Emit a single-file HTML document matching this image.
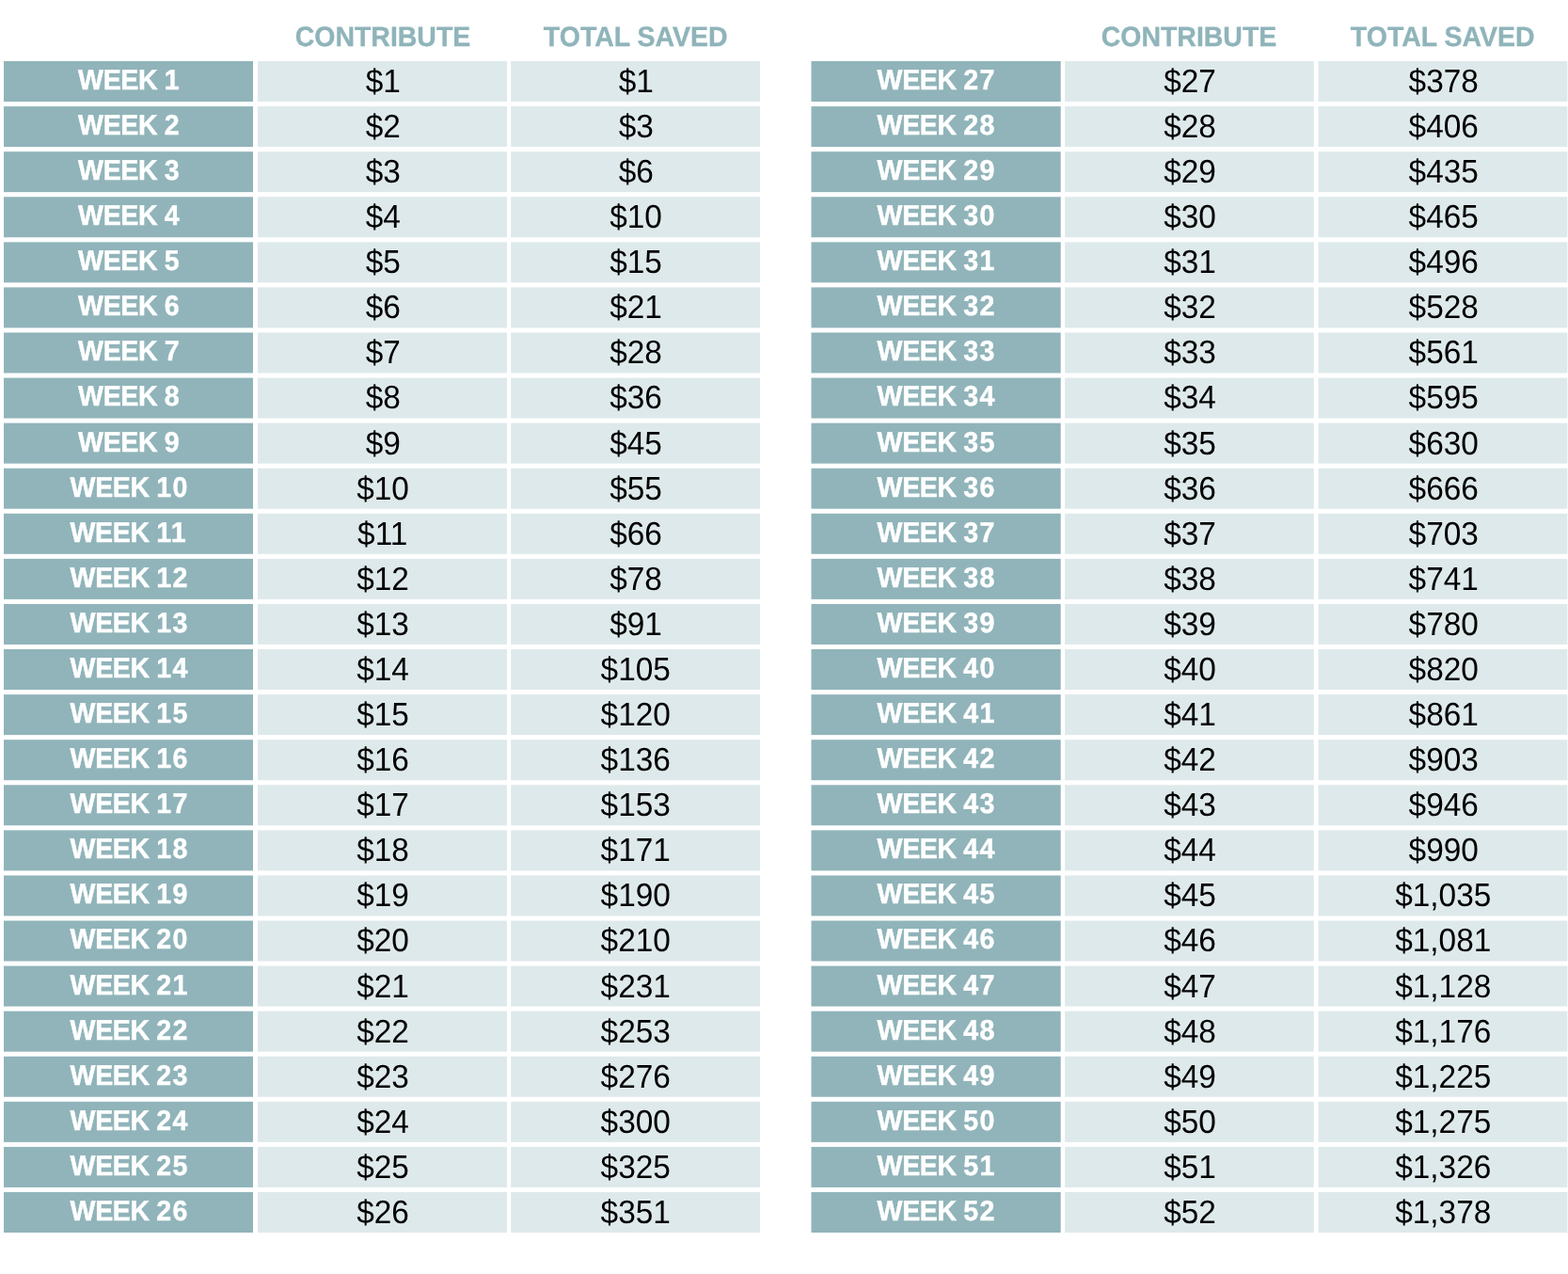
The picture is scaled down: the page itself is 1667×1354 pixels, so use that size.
<!DOCTYPE html>
<html lang="en">
<head>
<meta charset="utf-8">
<title>52 Week Savings Challenge</title>
<style>
html,body{margin:0;padding:0;background:#fff;}
body{width:1667px;height:1354px;position:relative;overflow:hidden;font-family:"Liberation Sans",sans-serif;text-rendering:geometricPrecision;}
svg.bg{position:absolute;left:0;top:0;}
.c{position:absolute;height:43px;line-height:43px;text-align:center;white-space:nowrap;}
.c span{display:inline-block;}
.wk{color:#fff;font-weight:bold;font-size:30.2px;-webkit-text-stroke:0.45px #fff;letter-spacing:-0.4px;}
.wk span{position:relative;top:-1.1px;transform:scaleX(0.946);}
.wk b{font-weight:bold;letter-spacing:1.3px;margin-right:-1.3px;}
.val{color:#000;font-size:34.8px;}
.val span{position:relative;left:0.6px;top:-0.1px;transform:scaleX(0.96);}
.hd{color:#8fb4ba;font-weight:bold;font-size:29.6px;-webkit-text-stroke:0.35px #8fb4ba;}
.hd span{transform:scaleX(0.962);}
</style>
</head>
<body>
<svg class="bg" width="1667" height="1354" viewBox="0 0 1667 1354">
<rect x="4" y="65.0" width="265.00" height="43" fill="#90b4ba"/>
<rect x="274" y="65.0" width="265.00" height="43" fill="#dee9eb"/>
<rect x="543.2" y="65.0" width="264.80" height="43" fill="#dee9eb"/>
<rect x="4" y="113.08" width="265.00" height="43" fill="#90b4ba"/>
<rect x="274" y="113.08" width="265.00" height="43" fill="#dee9eb"/>
<rect x="543.2" y="113.08" width="264.80" height="43" fill="#dee9eb"/>
<rect x="4" y="161.16" width="265.00" height="43" fill="#90b4ba"/>
<rect x="274" y="161.16" width="265.00" height="43" fill="#dee9eb"/>
<rect x="543.2" y="161.16" width="264.80" height="43" fill="#dee9eb"/>
<rect x="4" y="209.24" width="265.00" height="43" fill="#90b4ba"/>
<rect x="274" y="209.24" width="265.00" height="43" fill="#dee9eb"/>
<rect x="543.2" y="209.24" width="264.80" height="43" fill="#dee9eb"/>
<rect x="4" y="257.32" width="265.00" height="43" fill="#90b4ba"/>
<rect x="274" y="257.32" width="265.00" height="43" fill="#dee9eb"/>
<rect x="543.2" y="257.32" width="264.80" height="43" fill="#dee9eb"/>
<rect x="4" y="305.4" width="265.00" height="43" fill="#90b4ba"/>
<rect x="274" y="305.4" width="265.00" height="43" fill="#dee9eb"/>
<rect x="543.2" y="305.4" width="264.80" height="43" fill="#dee9eb"/>
<rect x="4" y="353.48" width="265.00" height="43" fill="#90b4ba"/>
<rect x="274" y="353.48" width="265.00" height="43" fill="#dee9eb"/>
<rect x="543.2" y="353.48" width="264.80" height="43" fill="#dee9eb"/>
<rect x="4" y="401.56" width="265.00" height="43" fill="#90b4ba"/>
<rect x="274" y="401.56" width="265.00" height="43" fill="#dee9eb"/>
<rect x="543.2" y="401.56" width="264.80" height="43" fill="#dee9eb"/>
<rect x="4" y="449.64" width="265.00" height="43" fill="#90b4ba"/>
<rect x="274" y="449.64" width="265.00" height="43" fill="#dee9eb"/>
<rect x="543.2" y="449.64" width="264.80" height="43" fill="#dee9eb"/>
<rect x="4" y="497.72" width="265.00" height="43" fill="#90b4ba"/>
<rect x="274" y="497.72" width="265.00" height="43" fill="#dee9eb"/>
<rect x="543.2" y="497.72" width="264.80" height="43" fill="#dee9eb"/>
<rect x="4" y="545.8" width="265.00" height="43" fill="#90b4ba"/>
<rect x="274" y="545.8" width="265.00" height="43" fill="#dee9eb"/>
<rect x="543.2" y="545.8" width="264.80" height="43" fill="#dee9eb"/>
<rect x="4" y="593.88" width="265.00" height="43" fill="#90b4ba"/>
<rect x="274" y="593.88" width="265.00" height="43" fill="#dee9eb"/>
<rect x="543.2" y="593.88" width="264.80" height="43" fill="#dee9eb"/>
<rect x="4" y="641.96" width="265.00" height="43" fill="#90b4ba"/>
<rect x="274" y="641.96" width="265.00" height="43" fill="#dee9eb"/>
<rect x="543.2" y="641.96" width="264.80" height="43" fill="#dee9eb"/>
<rect x="4" y="690.04" width="265.00" height="43" fill="#90b4ba"/>
<rect x="274" y="690.04" width="265.00" height="43" fill="#dee9eb"/>
<rect x="543.2" y="690.04" width="264.80" height="43" fill="#dee9eb"/>
<rect x="4" y="738.12" width="265.00" height="43" fill="#90b4ba"/>
<rect x="274" y="738.12" width="265.00" height="43" fill="#dee9eb"/>
<rect x="543.2" y="738.12" width="264.80" height="43" fill="#dee9eb"/>
<rect x="4" y="786.2" width="265.00" height="43" fill="#90b4ba"/>
<rect x="274" y="786.2" width="265.00" height="43" fill="#dee9eb"/>
<rect x="543.2" y="786.2" width="264.80" height="43" fill="#dee9eb"/>
<rect x="4" y="834.28" width="265.00" height="43" fill="#90b4ba"/>
<rect x="274" y="834.28" width="265.00" height="43" fill="#dee9eb"/>
<rect x="543.2" y="834.28" width="264.80" height="43" fill="#dee9eb"/>
<rect x="4" y="882.36" width="265.00" height="43" fill="#90b4ba"/>
<rect x="274" y="882.36" width="265.00" height="43" fill="#dee9eb"/>
<rect x="543.2" y="882.36" width="264.80" height="43" fill="#dee9eb"/>
<rect x="4" y="930.44" width="265.00" height="43" fill="#90b4ba"/>
<rect x="274" y="930.44" width="265.00" height="43" fill="#dee9eb"/>
<rect x="543.2" y="930.44" width="264.80" height="43" fill="#dee9eb"/>
<rect x="4" y="978.52" width="265.00" height="43" fill="#90b4ba"/>
<rect x="274" y="978.52" width="265.00" height="43" fill="#dee9eb"/>
<rect x="543.2" y="978.52" width="264.80" height="43" fill="#dee9eb"/>
<rect x="4" y="1026.6" width="265.00" height="43" fill="#90b4ba"/>
<rect x="274" y="1026.6" width="265.00" height="43" fill="#dee9eb"/>
<rect x="543.2" y="1026.6" width="264.80" height="43" fill="#dee9eb"/>
<rect x="4" y="1074.68" width="265.00" height="43" fill="#90b4ba"/>
<rect x="274" y="1074.68" width="265.00" height="43" fill="#dee9eb"/>
<rect x="543.2" y="1074.68" width="264.80" height="43" fill="#dee9eb"/>
<rect x="4" y="1122.76" width="265.00" height="43" fill="#90b4ba"/>
<rect x="274" y="1122.76" width="265.00" height="43" fill="#dee9eb"/>
<rect x="543.2" y="1122.76" width="264.80" height="43" fill="#dee9eb"/>
<rect x="4" y="1170.84" width="265.00" height="43" fill="#90b4ba"/>
<rect x="274" y="1170.84" width="265.00" height="43" fill="#dee9eb"/>
<rect x="543.2" y="1170.84" width="264.80" height="43" fill="#dee9eb"/>
<rect x="4" y="1218.92" width="265.00" height="43" fill="#90b4ba"/>
<rect x="274" y="1218.92" width="265.00" height="43" fill="#dee9eb"/>
<rect x="543.2" y="1218.92" width="264.80" height="43" fill="#dee9eb"/>
<rect x="4" y="1267.0" width="265.00" height="43" fill="#90b4ba"/>
<rect x="274" y="1267.0" width="265.00" height="43" fill="#dee9eb"/>
<rect x="543.2" y="1267.0" width="264.80" height="43" fill="#dee9eb"/>
<rect x="862.5" y="65.0" width="265.20" height="43" fill="#90b4ba"/>
<rect x="1132.1" y="65.0" width="264.70" height="43" fill="#dee9eb"/>
<rect x="1401.6" y="65.0" width="264.70" height="43" fill="#dee9eb"/>
<rect x="862.5" y="113.08" width="265.20" height="43" fill="#90b4ba"/>
<rect x="1132.1" y="113.08" width="264.70" height="43" fill="#dee9eb"/>
<rect x="1401.6" y="113.08" width="264.70" height="43" fill="#dee9eb"/>
<rect x="862.5" y="161.16" width="265.20" height="43" fill="#90b4ba"/>
<rect x="1132.1" y="161.16" width="264.70" height="43" fill="#dee9eb"/>
<rect x="1401.6" y="161.16" width="264.70" height="43" fill="#dee9eb"/>
<rect x="862.5" y="209.24" width="265.20" height="43" fill="#90b4ba"/>
<rect x="1132.1" y="209.24" width="264.70" height="43" fill="#dee9eb"/>
<rect x="1401.6" y="209.24" width="264.70" height="43" fill="#dee9eb"/>
<rect x="862.5" y="257.32" width="265.20" height="43" fill="#90b4ba"/>
<rect x="1132.1" y="257.32" width="264.70" height="43" fill="#dee9eb"/>
<rect x="1401.6" y="257.32" width="264.70" height="43" fill="#dee9eb"/>
<rect x="862.5" y="305.4" width="265.20" height="43" fill="#90b4ba"/>
<rect x="1132.1" y="305.4" width="264.70" height="43" fill="#dee9eb"/>
<rect x="1401.6" y="305.4" width="264.70" height="43" fill="#dee9eb"/>
<rect x="862.5" y="353.48" width="265.20" height="43" fill="#90b4ba"/>
<rect x="1132.1" y="353.48" width="264.70" height="43" fill="#dee9eb"/>
<rect x="1401.6" y="353.48" width="264.70" height="43" fill="#dee9eb"/>
<rect x="862.5" y="401.56" width="265.20" height="43" fill="#90b4ba"/>
<rect x="1132.1" y="401.56" width="264.70" height="43" fill="#dee9eb"/>
<rect x="1401.6" y="401.56" width="264.70" height="43" fill="#dee9eb"/>
<rect x="862.5" y="449.64" width="265.20" height="43" fill="#90b4ba"/>
<rect x="1132.1" y="449.64" width="264.70" height="43" fill="#dee9eb"/>
<rect x="1401.6" y="449.64" width="264.70" height="43" fill="#dee9eb"/>
<rect x="862.5" y="497.72" width="265.20" height="43" fill="#90b4ba"/>
<rect x="1132.1" y="497.72" width="264.70" height="43" fill="#dee9eb"/>
<rect x="1401.6" y="497.72" width="264.70" height="43" fill="#dee9eb"/>
<rect x="862.5" y="545.8" width="265.20" height="43" fill="#90b4ba"/>
<rect x="1132.1" y="545.8" width="264.70" height="43" fill="#dee9eb"/>
<rect x="1401.6" y="545.8" width="264.70" height="43" fill="#dee9eb"/>
<rect x="862.5" y="593.88" width="265.20" height="43" fill="#90b4ba"/>
<rect x="1132.1" y="593.88" width="264.70" height="43" fill="#dee9eb"/>
<rect x="1401.6" y="593.88" width="264.70" height="43" fill="#dee9eb"/>
<rect x="862.5" y="641.96" width="265.20" height="43" fill="#90b4ba"/>
<rect x="1132.1" y="641.96" width="264.70" height="43" fill="#dee9eb"/>
<rect x="1401.6" y="641.96" width="264.70" height="43" fill="#dee9eb"/>
<rect x="862.5" y="690.04" width="265.20" height="43" fill="#90b4ba"/>
<rect x="1132.1" y="690.04" width="264.70" height="43" fill="#dee9eb"/>
<rect x="1401.6" y="690.04" width="264.70" height="43" fill="#dee9eb"/>
<rect x="862.5" y="738.12" width="265.20" height="43" fill="#90b4ba"/>
<rect x="1132.1" y="738.12" width="264.70" height="43" fill="#dee9eb"/>
<rect x="1401.6" y="738.12" width="264.70" height="43" fill="#dee9eb"/>
<rect x="862.5" y="786.2" width="265.20" height="43" fill="#90b4ba"/>
<rect x="1132.1" y="786.2" width="264.70" height="43" fill="#dee9eb"/>
<rect x="1401.6" y="786.2" width="264.70" height="43" fill="#dee9eb"/>
<rect x="862.5" y="834.28" width="265.20" height="43" fill="#90b4ba"/>
<rect x="1132.1" y="834.28" width="264.70" height="43" fill="#dee9eb"/>
<rect x="1401.6" y="834.28" width="264.70" height="43" fill="#dee9eb"/>
<rect x="862.5" y="882.36" width="265.20" height="43" fill="#90b4ba"/>
<rect x="1132.1" y="882.36" width="264.70" height="43" fill="#dee9eb"/>
<rect x="1401.6" y="882.36" width="264.70" height="43" fill="#dee9eb"/>
<rect x="862.5" y="930.44" width="265.20" height="43" fill="#90b4ba"/>
<rect x="1132.1" y="930.44" width="264.70" height="43" fill="#dee9eb"/>
<rect x="1401.6" y="930.44" width="264.70" height="43" fill="#dee9eb"/>
<rect x="862.5" y="978.52" width="265.20" height="43" fill="#90b4ba"/>
<rect x="1132.1" y="978.52" width="264.70" height="43" fill="#dee9eb"/>
<rect x="1401.6" y="978.52" width="264.70" height="43" fill="#dee9eb"/>
<rect x="862.5" y="1026.6" width="265.20" height="43" fill="#90b4ba"/>
<rect x="1132.1" y="1026.6" width="264.70" height="43" fill="#dee9eb"/>
<rect x="1401.6" y="1026.6" width="264.70" height="43" fill="#dee9eb"/>
<rect x="862.5" y="1074.68" width="265.20" height="43" fill="#90b4ba"/>
<rect x="1132.1" y="1074.68" width="264.70" height="43" fill="#dee9eb"/>
<rect x="1401.6" y="1074.68" width="264.70" height="43" fill="#dee9eb"/>
<rect x="862.5" y="1122.76" width="265.20" height="43" fill="#90b4ba"/>
<rect x="1132.1" y="1122.76" width="264.70" height="43" fill="#dee9eb"/>
<rect x="1401.6" y="1122.76" width="264.70" height="43" fill="#dee9eb"/>
<rect x="862.5" y="1170.84" width="265.20" height="43" fill="#90b4ba"/>
<rect x="1132.1" y="1170.84" width="264.70" height="43" fill="#dee9eb"/>
<rect x="1401.6" y="1170.84" width="264.70" height="43" fill="#dee9eb"/>
<rect x="862.5" y="1218.92" width="265.20" height="43" fill="#90b4ba"/>
<rect x="1132.1" y="1218.92" width="264.70" height="43" fill="#dee9eb"/>
<rect x="1401.6" y="1218.92" width="264.70" height="43" fill="#dee9eb"/>
<rect x="862.5" y="1267.0" width="265.20" height="43" fill="#90b4ba"/>
<rect x="1132.1" y="1267.0" width="264.70" height="43" fill="#dee9eb"/>
<rect x="1401.6" y="1267.0" width="264.70" height="43" fill="#dee9eb"/>
</svg>
<div class="c wk" style="left:4px;top:65.0px;width:265.00px"><span>WEEK <b>1</b></span></div>
<div class="c val" style="left:274px;top:65.0px;width:265.00px"><span>$1</span></div>
<div class="c val" style="left:543.2px;top:65.0px;width:264.80px"><span>$1</span></div>
<div class="c wk" style="left:4px;top:113.08px;width:265.00px"><span>WEEK <b>2</b></span></div>
<div class="c val" style="left:274px;top:113.08px;width:265.00px"><span>$2</span></div>
<div class="c val" style="left:543.2px;top:113.08px;width:264.80px"><span>$3</span></div>
<div class="c wk" style="left:4px;top:161.16px;width:265.00px"><span>WEEK <b>3</b></span></div>
<div class="c val" style="left:274px;top:161.16px;width:265.00px"><span>$3</span></div>
<div class="c val" style="left:543.2px;top:161.16px;width:264.80px"><span>$6</span></div>
<div class="c wk" style="left:4px;top:209.24px;width:265.00px"><span>WEEK <b>4</b></span></div>
<div class="c val" style="left:274px;top:209.24px;width:265.00px"><span>$4</span></div>
<div class="c val" style="left:543.2px;top:209.24px;width:264.80px"><span>$10</span></div>
<div class="c wk" style="left:4px;top:257.32px;width:265.00px"><span>WEEK <b>5</b></span></div>
<div class="c val" style="left:274px;top:257.32px;width:265.00px"><span>$5</span></div>
<div class="c val" style="left:543.2px;top:257.32px;width:264.80px"><span>$15</span></div>
<div class="c wk" style="left:4px;top:305.4px;width:265.00px"><span>WEEK <b>6</b></span></div>
<div class="c val" style="left:274px;top:305.4px;width:265.00px"><span>$6</span></div>
<div class="c val" style="left:543.2px;top:305.4px;width:264.80px"><span>$21</span></div>
<div class="c wk" style="left:4px;top:353.48px;width:265.00px"><span>WEEK <b>7</b></span></div>
<div class="c val" style="left:274px;top:353.48px;width:265.00px"><span>$7</span></div>
<div class="c val" style="left:543.2px;top:353.48px;width:264.80px"><span>$28</span></div>
<div class="c wk" style="left:4px;top:401.56px;width:265.00px"><span>WEEK <b>8</b></span></div>
<div class="c val" style="left:274px;top:401.56px;width:265.00px"><span>$8</span></div>
<div class="c val" style="left:543.2px;top:401.56px;width:264.80px"><span>$36</span></div>
<div class="c wk" style="left:4px;top:449.64px;width:265.00px"><span>WEEK <b>9</b></span></div>
<div class="c val" style="left:274px;top:449.64px;width:265.00px"><span>$9</span></div>
<div class="c val" style="left:543.2px;top:449.64px;width:264.80px"><span>$45</span></div>
<div class="c wk" style="left:4px;top:497.72px;width:265.00px"><span>WEEK <b>10</b></span></div>
<div class="c val" style="left:274px;top:497.72px;width:265.00px"><span>$10</span></div>
<div class="c val" style="left:543.2px;top:497.72px;width:264.80px"><span>$55</span></div>
<div class="c wk" style="left:4px;top:545.8px;width:265.00px"><span>WEEK <b>11</b></span></div>
<div class="c val" style="left:274px;top:545.8px;width:265.00px"><span>$11</span></div>
<div class="c val" style="left:543.2px;top:545.8px;width:264.80px"><span>$66</span></div>
<div class="c wk" style="left:4px;top:593.88px;width:265.00px"><span>WEEK <b>12</b></span></div>
<div class="c val" style="left:274px;top:593.88px;width:265.00px"><span>$12</span></div>
<div class="c val" style="left:543.2px;top:593.88px;width:264.80px"><span>$78</span></div>
<div class="c wk" style="left:4px;top:641.96px;width:265.00px"><span>WEEK <b>13</b></span></div>
<div class="c val" style="left:274px;top:641.96px;width:265.00px"><span>$13</span></div>
<div class="c val" style="left:543.2px;top:641.96px;width:264.80px"><span>$91</span></div>
<div class="c wk" style="left:4px;top:690.04px;width:265.00px"><span>WEEK <b>14</b></span></div>
<div class="c val" style="left:274px;top:690.04px;width:265.00px"><span>$14</span></div>
<div class="c val" style="left:543.2px;top:690.04px;width:264.80px"><span>$105</span></div>
<div class="c wk" style="left:4px;top:738.12px;width:265.00px"><span>WEEK <b>15</b></span></div>
<div class="c val" style="left:274px;top:738.12px;width:265.00px"><span>$15</span></div>
<div class="c val" style="left:543.2px;top:738.12px;width:264.80px"><span>$120</span></div>
<div class="c wk" style="left:4px;top:786.2px;width:265.00px"><span>WEEK <b>16</b></span></div>
<div class="c val" style="left:274px;top:786.2px;width:265.00px"><span>$16</span></div>
<div class="c val" style="left:543.2px;top:786.2px;width:264.80px"><span>$136</span></div>
<div class="c wk" style="left:4px;top:834.28px;width:265.00px"><span>WEEK <b>17</b></span></div>
<div class="c val" style="left:274px;top:834.28px;width:265.00px"><span>$17</span></div>
<div class="c val" style="left:543.2px;top:834.28px;width:264.80px"><span>$153</span></div>
<div class="c wk" style="left:4px;top:882.36px;width:265.00px"><span>WEEK <b>18</b></span></div>
<div class="c val" style="left:274px;top:882.36px;width:265.00px"><span>$18</span></div>
<div class="c val" style="left:543.2px;top:882.36px;width:264.80px"><span>$171</span></div>
<div class="c wk" style="left:4px;top:930.44px;width:265.00px"><span>WEEK <b>19</b></span></div>
<div class="c val" style="left:274px;top:930.44px;width:265.00px"><span>$19</span></div>
<div class="c val" style="left:543.2px;top:930.44px;width:264.80px"><span>$190</span></div>
<div class="c wk" style="left:4px;top:978.52px;width:265.00px"><span>WEEK <b>20</b></span></div>
<div class="c val" style="left:274px;top:978.52px;width:265.00px"><span>$20</span></div>
<div class="c val" style="left:543.2px;top:978.52px;width:264.80px"><span>$210</span></div>
<div class="c wk" style="left:4px;top:1026.6px;width:265.00px"><span>WEEK <b>21</b></span></div>
<div class="c val" style="left:274px;top:1026.6px;width:265.00px"><span>$21</span></div>
<div class="c val" style="left:543.2px;top:1026.6px;width:264.80px"><span>$231</span></div>
<div class="c wk" style="left:4px;top:1074.68px;width:265.00px"><span>WEEK <b>22</b></span></div>
<div class="c val" style="left:274px;top:1074.68px;width:265.00px"><span>$22</span></div>
<div class="c val" style="left:543.2px;top:1074.68px;width:264.80px"><span>$253</span></div>
<div class="c wk" style="left:4px;top:1122.76px;width:265.00px"><span>WEEK <b>23</b></span></div>
<div class="c val" style="left:274px;top:1122.76px;width:265.00px"><span>$23</span></div>
<div class="c val" style="left:543.2px;top:1122.76px;width:264.80px"><span>$276</span></div>
<div class="c wk" style="left:4px;top:1170.84px;width:265.00px"><span>WEEK <b>24</b></span></div>
<div class="c val" style="left:274px;top:1170.84px;width:265.00px"><span>$24</span></div>
<div class="c val" style="left:543.2px;top:1170.84px;width:264.80px"><span>$300</span></div>
<div class="c wk" style="left:4px;top:1218.92px;width:265.00px"><span>WEEK <b>25</b></span></div>
<div class="c val" style="left:274px;top:1218.92px;width:265.00px"><span>$25</span></div>
<div class="c val" style="left:543.2px;top:1218.92px;width:264.80px"><span>$325</span></div>
<div class="c wk" style="left:4px;top:1267.0px;width:265.00px"><span>WEEK <b>26</b></span></div>
<div class="c val" style="left:274px;top:1267.0px;width:265.00px"><span>$26</span></div>
<div class="c val" style="left:543.2px;top:1267.0px;width:264.80px"><span>$351</span></div>
<div class="c hd" style="left:274px;top:17.5px;width:265.00px"><span>CONTRIBUTE</span></div>
<div class="c hd" style="left:543.2px;top:17.5px;width:264.80px"><span>TOTAL SAVED</span></div>
<div class="c wk" style="left:862.5px;top:65.0px;width:265.20px"><span>WEEK <b>27</b></span></div>
<div class="c val" style="left:1132.1px;top:65.0px;width:264.70px"><span>$27</span></div>
<div class="c val" style="left:1401.6px;top:65.0px;width:264.70px"><span>$378</span></div>
<div class="c wk" style="left:862.5px;top:113.08px;width:265.20px"><span>WEEK <b>28</b></span></div>
<div class="c val" style="left:1132.1px;top:113.08px;width:264.70px"><span>$28</span></div>
<div class="c val" style="left:1401.6px;top:113.08px;width:264.70px"><span>$406</span></div>
<div class="c wk" style="left:862.5px;top:161.16px;width:265.20px"><span>WEEK <b>29</b></span></div>
<div class="c val" style="left:1132.1px;top:161.16px;width:264.70px"><span>$29</span></div>
<div class="c val" style="left:1401.6px;top:161.16px;width:264.70px"><span>$435</span></div>
<div class="c wk" style="left:862.5px;top:209.24px;width:265.20px"><span>WEEK <b>30</b></span></div>
<div class="c val" style="left:1132.1px;top:209.24px;width:264.70px"><span>$30</span></div>
<div class="c val" style="left:1401.6px;top:209.24px;width:264.70px"><span>$465</span></div>
<div class="c wk" style="left:862.5px;top:257.32px;width:265.20px"><span>WEEK <b>31</b></span></div>
<div class="c val" style="left:1132.1px;top:257.32px;width:264.70px"><span>$31</span></div>
<div class="c val" style="left:1401.6px;top:257.32px;width:264.70px"><span>$496</span></div>
<div class="c wk" style="left:862.5px;top:305.4px;width:265.20px"><span>WEEK <b>32</b></span></div>
<div class="c val" style="left:1132.1px;top:305.4px;width:264.70px"><span>$32</span></div>
<div class="c val" style="left:1401.6px;top:305.4px;width:264.70px"><span>$528</span></div>
<div class="c wk" style="left:862.5px;top:353.48px;width:265.20px"><span>WEEK <b>33</b></span></div>
<div class="c val" style="left:1132.1px;top:353.48px;width:264.70px"><span>$33</span></div>
<div class="c val" style="left:1401.6px;top:353.48px;width:264.70px"><span>$561</span></div>
<div class="c wk" style="left:862.5px;top:401.56px;width:265.20px"><span>WEEK <b>34</b></span></div>
<div class="c val" style="left:1132.1px;top:401.56px;width:264.70px"><span>$34</span></div>
<div class="c val" style="left:1401.6px;top:401.56px;width:264.70px"><span>$595</span></div>
<div class="c wk" style="left:862.5px;top:449.64px;width:265.20px"><span>WEEK <b>35</b></span></div>
<div class="c val" style="left:1132.1px;top:449.64px;width:264.70px"><span>$35</span></div>
<div class="c val" style="left:1401.6px;top:449.64px;width:264.70px"><span>$630</span></div>
<div class="c wk" style="left:862.5px;top:497.72px;width:265.20px"><span>WEEK <b>36</b></span></div>
<div class="c val" style="left:1132.1px;top:497.72px;width:264.70px"><span>$36</span></div>
<div class="c val" style="left:1401.6px;top:497.72px;width:264.70px"><span>$666</span></div>
<div class="c wk" style="left:862.5px;top:545.8px;width:265.20px"><span>WEEK <b>37</b></span></div>
<div class="c val" style="left:1132.1px;top:545.8px;width:264.70px"><span>$37</span></div>
<div class="c val" style="left:1401.6px;top:545.8px;width:264.70px"><span>$703</span></div>
<div class="c wk" style="left:862.5px;top:593.88px;width:265.20px"><span>WEEK <b>38</b></span></div>
<div class="c val" style="left:1132.1px;top:593.88px;width:264.70px"><span>$38</span></div>
<div class="c val" style="left:1401.6px;top:593.88px;width:264.70px"><span>$741</span></div>
<div class="c wk" style="left:862.5px;top:641.96px;width:265.20px"><span>WEEK <b>39</b></span></div>
<div class="c val" style="left:1132.1px;top:641.96px;width:264.70px"><span>$39</span></div>
<div class="c val" style="left:1401.6px;top:641.96px;width:264.70px"><span>$780</span></div>
<div class="c wk" style="left:862.5px;top:690.04px;width:265.20px"><span>WEEK <b>40</b></span></div>
<div class="c val" style="left:1132.1px;top:690.04px;width:264.70px"><span>$40</span></div>
<div class="c val" style="left:1401.6px;top:690.04px;width:264.70px"><span>$820</span></div>
<div class="c wk" style="left:862.5px;top:738.12px;width:265.20px"><span>WEEK <b>41</b></span></div>
<div class="c val" style="left:1132.1px;top:738.12px;width:264.70px"><span>$41</span></div>
<div class="c val" style="left:1401.6px;top:738.12px;width:264.70px"><span>$861</span></div>
<div class="c wk" style="left:862.5px;top:786.2px;width:265.20px"><span>WEEK <b>42</b></span></div>
<div class="c val" style="left:1132.1px;top:786.2px;width:264.70px"><span>$42</span></div>
<div class="c val" style="left:1401.6px;top:786.2px;width:264.70px"><span>$903</span></div>
<div class="c wk" style="left:862.5px;top:834.28px;width:265.20px"><span>WEEK <b>43</b></span></div>
<div class="c val" style="left:1132.1px;top:834.28px;width:264.70px"><span>$43</span></div>
<div class="c val" style="left:1401.6px;top:834.28px;width:264.70px"><span>$946</span></div>
<div class="c wk" style="left:862.5px;top:882.36px;width:265.20px"><span>WEEK <b>44</b></span></div>
<div class="c val" style="left:1132.1px;top:882.36px;width:264.70px"><span>$44</span></div>
<div class="c val" style="left:1401.6px;top:882.36px;width:264.70px"><span>$990</span></div>
<div class="c wk" style="left:862.5px;top:930.44px;width:265.20px"><span>WEEK <b>45</b></span></div>
<div class="c val" style="left:1132.1px;top:930.44px;width:264.70px"><span>$45</span></div>
<div class="c val" style="left:1401.6px;top:930.44px;width:264.70px"><span>$1,035</span></div>
<div class="c wk" style="left:862.5px;top:978.52px;width:265.20px"><span>WEEK <b>46</b></span></div>
<div class="c val" style="left:1132.1px;top:978.52px;width:264.70px"><span>$46</span></div>
<div class="c val" style="left:1401.6px;top:978.52px;width:264.70px"><span>$1,081</span></div>
<div class="c wk" style="left:862.5px;top:1026.6px;width:265.20px"><span>WEEK <b>47</b></span></div>
<div class="c val" style="left:1132.1px;top:1026.6px;width:264.70px"><span>$47</span></div>
<div class="c val" style="left:1401.6px;top:1026.6px;width:264.70px"><span>$1,128</span></div>
<div class="c wk" style="left:862.5px;top:1074.68px;width:265.20px"><span>WEEK <b>48</b></span></div>
<div class="c val" style="left:1132.1px;top:1074.68px;width:264.70px"><span>$48</span></div>
<div class="c val" style="left:1401.6px;top:1074.68px;width:264.70px"><span>$1,176</span></div>
<div class="c wk" style="left:862.5px;top:1122.76px;width:265.20px"><span>WEEK <b>49</b></span></div>
<div class="c val" style="left:1132.1px;top:1122.76px;width:264.70px"><span>$49</span></div>
<div class="c val" style="left:1401.6px;top:1122.76px;width:264.70px"><span>$1,225</span></div>
<div class="c wk" style="left:862.5px;top:1170.84px;width:265.20px"><span>WEEK <b>50</b></span></div>
<div class="c val" style="left:1132.1px;top:1170.84px;width:264.70px"><span>$50</span></div>
<div class="c val" style="left:1401.6px;top:1170.84px;width:264.70px"><span>$1,275</span></div>
<div class="c wk" style="left:862.5px;top:1218.92px;width:265.20px"><span>WEEK <b>51</b></span></div>
<div class="c val" style="left:1132.1px;top:1218.92px;width:264.70px"><span>$51</span></div>
<div class="c val" style="left:1401.6px;top:1218.92px;width:264.70px"><span>$1,326</span></div>
<div class="c wk" style="left:862.5px;top:1267.0px;width:265.20px"><span>WEEK <b>52</b></span></div>
<div class="c val" style="left:1132.1px;top:1267.0px;width:264.70px"><span>$52</span></div>
<div class="c val" style="left:1401.6px;top:1267.0px;width:264.70px"><span>$1,378</span></div>
<div class="c hd" style="left:1132.1px;top:17.5px;width:264.70px"><span>CONTRIBUTE</span></div>
<div class="c hd" style="left:1401.6px;top:17.5px;width:264.70px"><span>TOTAL SAVED</span></div>
</body>
</html>
